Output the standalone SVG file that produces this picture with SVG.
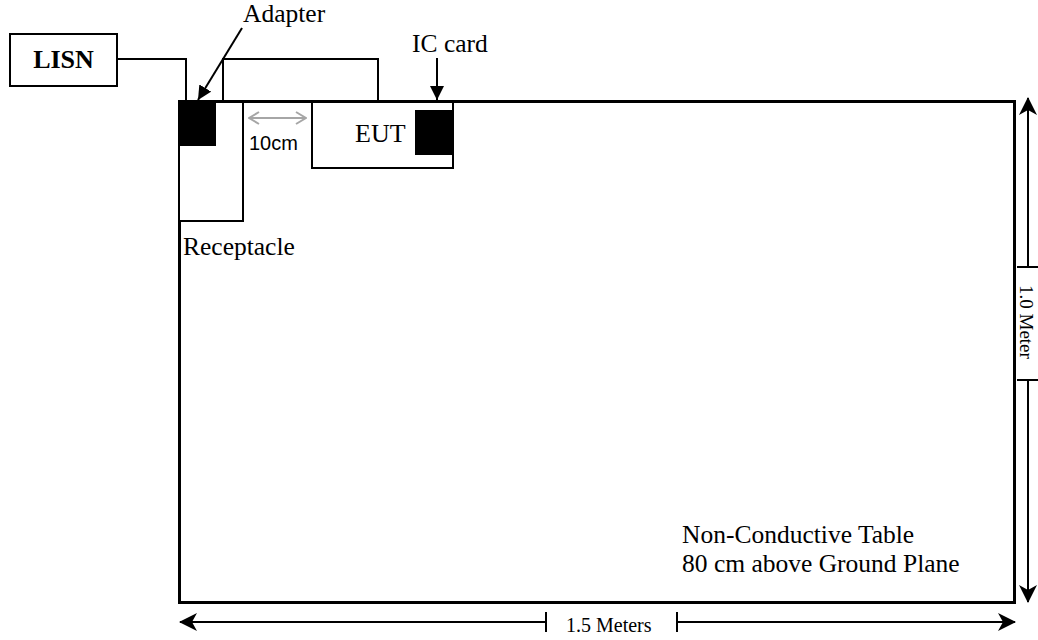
<svg xmlns="http://www.w3.org/2000/svg" width="1038" height="640" viewBox="0 0 1038 640">
<style>
.s{font-family:"Liberation Serif","Times New Roman",serif;fill:#000}
.ln{fill:none;stroke:#000;stroke-width:2}
</style>
<defs>
<marker id="stealth" viewBox="0 0 18 18" refX="17" refY="9" markerWidth="18" markerHeight="18" markerUnits="userSpaceOnUse" orient="auto-start-reverse">
<path d="M0,0 L18,9 L0,18 L5,9 Z" fill="#000"/>
</marker>
<marker id="tri" viewBox="0 0 14 14" refX="14" refY="7" markerWidth="14" markerHeight="14" markerUnits="userSpaceOnUse" orient="auto">
<path d="M0,0 L14,7 L0,14 Z" fill="#000"/>
</marker>
<marker id="grey" viewBox="0 0 12 14" refX="11" refY="7" markerWidth="12" markerHeight="14" markerUnits="userSpaceOnUse" orient="auto-start-reverse">
<path d="M1,1 L11,7 L1,13" fill="none" stroke="#a6a6a6" stroke-width="2"/>
</marker>
</defs>
<rect width="1038" height="640" fill="#fff"/>

<g id="table">
<rect x="179.5" y="101.5" width="835" height="501" fill="none" stroke="#000" stroke-width="3"/>
<text class="s" x="682" y="543" font-size="25.5">Non-Conductive Table</text>
<text class="s" x="682" y="572" font-size="25.5">80 cm above Ground Plane</text>
</g>

<g id="lisn">
<rect x="10" y="34" width="107" height="52" fill="#fff" stroke="#000" stroke-width="2"/>
<text class="s" x="63.5" y="68" font-size="26" font-weight="bold" text-anchor="middle">LISN</text>
</g>

<g id="receptacle">
<rect x="179" y="101" width="64" height="120" fill="#fff" stroke="#000" stroke-width="2"/>
<text class="s" x="183" y="255" font-size="25.5">Receptacle</text>
</g>

<g id="adapter">
<rect x="178" y="100" width="38" height="46" fill="#000"/>
<text class="s" x="243" y="22" font-size="25.5">Adapter</text>
</g>

<g id="eut">
<rect x="312" y="101" width="141" height="67" fill="#fff" stroke="#000" stroke-width="2"/>
<text class="s" x="355" y="142" font-size="26">EUT</text>
</g>

<g id="iccard">
<rect x="415" y="110" width="38" height="45" fill="#000"/>
<text class="s" x="412" y="52" font-size="25.5">IC card</text>
</g>

<g id="connectors">
<polyline class="ln" points="117,59 186,59 186,101"/>
<polyline class="ln" points="223,101 223,59 378,59 378,101"/>
<line x1="179" y1="101.5" x2="1015" y2="101.5" stroke="#000" stroke-width="3"/>
<line class="ln" x1="242" y1="28" x2="198" y2="100" marker-end="url(#tri)" stroke-width="1.5"/>
<line class="ln" x1="437" y1="58" x2="437" y2="100" marker-end="url(#tri)" stroke-width="1.5"/>
<line x1="249" y1="118" x2="306" y2="118" stroke="#a6a6a6" stroke-width="2" marker-start="url(#grey)" marker-end="url(#grey)"/>
<text x="249" y="150" font-family="Liberation Sans, Arial, sans-serif" font-size="20" fill="#000">10cm</text>
</g>

<g id="dimensions">
<line class="ln" x1="546" y1="622" x2="180" y2="622" marker-end="url(#stealth)"/>
<line class="ln" x1="677" y1="622" x2="1015" y2="622" marker-end="url(#stealth)"/>
<line class="ln" x1="546" y1="612" x2="546" y2="632"/>
<line class="ln" x1="677" y1="612" x2="677" y2="632"/>
<text class="s" x="566" y="632" font-size="20">1.5 Meters</text>
<line class="ln" x1="1028" y1="267" x2="1028" y2="98" marker-end="url(#stealth)"/>
<line class="ln" x1="1028" y1="380" x2="1028" y2="602" marker-end="url(#stealth)"/>
<line class="ln" x1="1017" y1="267" x2="1038" y2="267"/>
<line class="ln" x1="1017" y1="380" x2="1038" y2="380"/>
<text class="s" font-size="19" transform="translate(1020,285) rotate(90)">1.0 Meter</text>
</g>
</svg>
